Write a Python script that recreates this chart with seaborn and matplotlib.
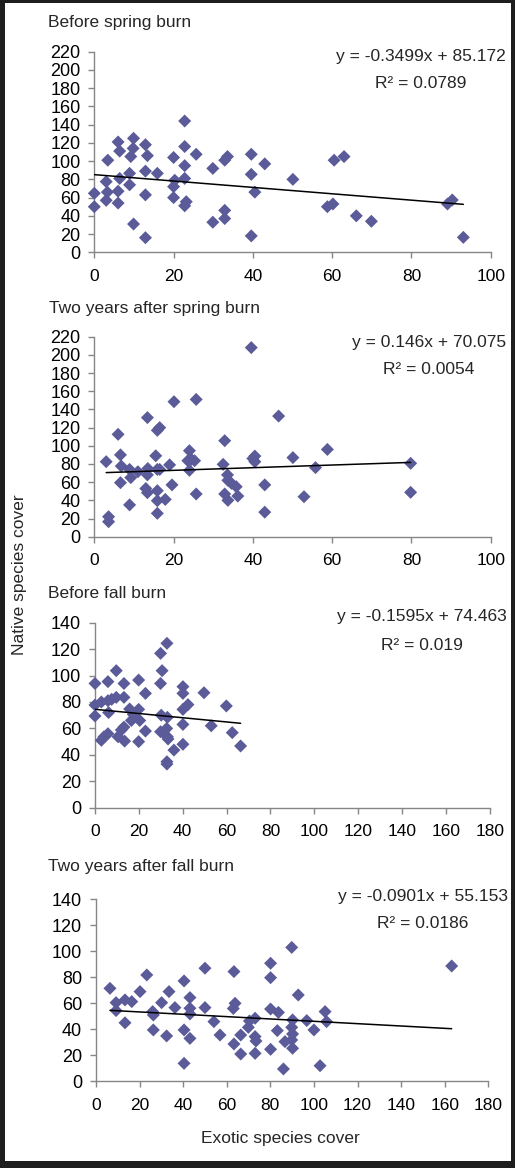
import numpy as np
import pandas as pd
import matplotlib
matplotlib.use("Agg")
import matplotlib.pyplot as plt
import seaborn as sns
from matplotlib.patches import Rectangle

# ---------------- data ----------------
titles = ["Before spring burn", "Two years after spring burn",
          "Before fall burn", "Two years after fall burn"]

x1 = [0, 0, 3.4, 3, 3.3, 3, 6, 6.4, 6.4, 6, 6, 9.9, 9.8, 9.2, 8.9, 8.9, 9.9,
      12.9, 13.4, 12.9, 12.9, 12.9, 15.9, 20, 20.3, 20, 20, 22.8, 22.8, 22.8,
      22.8, 23.2, 22.8, 25.7, 29.9, 29.9, 32.9, 33.6, 32.9, 32.9, 39.6, 39.6,
      40.5, 39.6, 43, 50.1, 58.8, 60.2, 60.5, 63, 66.1, 69.9, 89.1, 90.3, 93.1]
y1 = [64.7, 50, 101, 77.5, 66, 57, 121, 111, 81, 67, 54, 125, 114, 105, 86.6,
      74, 31, 118, 106, 89, 63, 16, 86.6, 104, 79, 72, 60, 144, 116, 95, 81,
      55.5, 51, 107.5, 92, 33, 101, 105, 46, 37, 107.5, 85.5, 66, 18, 97, 80,
      50, 53, 101, 105, 40, 34, 53, 57.4, 16.4]

x2 = [3.0, 3.6, 3.6, 6.0, 6.6, 6.8, 6.6, 8.9, 9.2, 8.9, 11, 13.4, 13.5, 13.4,
      13, 13.4, 15.5, 15.9, 16.5, 15.9, 16.5, 15.9, 15.9, 15.9, 17.9, 19, 19.6,
      20.1, 25.7, 24, 23.6, 24.5, 25.3, 24, 25.7, 32.9, 32.5, 33.6, 33.7, 34.6,
      35.8, 32.9, 33.7, 36.2, 39.6, 40, 40.5, 40.5, 43, 43, 46.5, 50.1, 52.9,
      55.8, 58.8, 79.8, 79.8]
y2 = [82.5, 22, 16.5, 112.6, 90, 77.7, 59.4, 74, 65, 35, 71.5, 131, 75, 68,
      53, 48.4, 89, 74, 74, 117, 120, 50.6, 39.6, 25.7, 41, 79, 57, 148.5, 151,
      94.6, 83.6, 85, 83.6, 73, 47, 105.6, 79.6, 68, 62, 58.7, 55, 47, 40,
      44.7, 208, 86, 88.7, 82.5, 57, 27, 132.7, 87, 44, 76, 96, 80.7, 48.8]

x3 = [0, 0, 0, 2.9, 2.9, 4.1, 5.9, 5.9, 6.2, 5.9, 9.7, 9.7, 10.5, 12, 13.2,
      13.2, 13.2, 13.5, 15.8, 16.6, 19.9, 19.9, 20.4, 19.9, 23, 23, 29.9, 32.8,
      30.6, 29.9, 30.2, 33, 29.9, 32.7, 33, 33.3, 32.8, 32.8, 36, 40.1, 40.1,
      42.4, 40.1, 40.1, 40.1, 49.7, 53, 59.9, 62.6, 66.4, 7.6, 17.5]
y3 = [94, 77.7, 69.4, 80, 51, 53.7, 95.4, 81, 72, 56, 103.7, 83.5, 53.7, 58.8,
      94, 83.5, 61, 50.4, 74.7, 66, 96.6, 74.4, 66, 50, 86.5, 58, 116.8, 124.4,
      103.7, 94, 70, 68.4, 57.5, 60, 53.7, 52, 34.8, 33, 43.6, 91.6, 86.5, 78,
      74.4, 63, 48, 87, 62, 77, 56.8, 46.7, 82, 70.5]

x4 = [6.4, 9.2, 9.2, 13.3, 13.3, 16.4, 20.2, 23.3, 26, 26.3, 26.3, 30.1, 32.4,
      33.5, 36.2, 40.4, 40.4, 40.4, 43.1, 43.1, 43.1, 43.1, 50, 50, 54.1, 56.9,
      63.3, 63.8, 63, 63.3, 66.4, 66.4, 69.9, 70.4, 73, 73, 73.4, 73, 80.1,
      80.1, 80.1, 83.7, 80.1, 83.2, 86, 86.7, 89.8, 92.8, 90.2, 89.8, 90.2,
      89.8, 90.2, 96.7, 100, 102.8, 105.1, 105.8, 163.2]
y4 = [71.5, 60.5, 54.4, 45, 62.6, 61.3, 69, 81.8, 53.6, 51, 39.5, 60.5, 34.9,
      69, 56.7, 77.2, 39.5, 13.8, 64.4, 56.2, 51.8, 33, 87, 56.7, 45.9, 35.6,
      84.4, 60, 56, 28.7, 35.6, 21, 41.5, 46.4, 48.5, 34.4, 31, 21.5, 90.8,
      79.7, 55.6, 53, 24.6, 39, 9.5, 30.5, 103, 66.4, 47.2, 41.5, 36.4, 31.8,
      25.4, 46.7, 39.5, 12, 53.6, 45.9, 88.7]

slopes = [-0.3499, 0.146, -0.1595, -0.0901]
intercepts = [85.172, 70.075, 74.463, 55.153]
eq_labels = ["y = -0.3499x + 85.172", "y = 0.146x + 70.075",
             "y = -0.1595x + 74.463", "y = -0.0901x + 55.153"]
r2_labels = ["R\u00b2 = 0.0789", "R\u00b2 = 0.0054",
             "R\u00b2 = 0.019", "R\u00b2 = 0.0186"]
x_max = [100, 100, 180, 180]
y_max = [220, 220, 140, 140]

# ---------------- style ----------------
sns.set_style("ticks")
plt.rcParams["font.family"] = ["Liberation Sans", "DejaVu Sans"]

W, H = 515, 1168
FS = 12.5
MARKER = "#5b5b99"
SPINE = "#868686"

fig = plt.figure(figsize=(W / 100, H / 100), dpi=100)
fig.patch.set_facecolor("#1e1e1e")
fig.add_artist(Rectangle((5 / W, 7 / H), 506 / W, 1158 / H,
                         transform=fig.transFigure, facecolor="white",
                         edgecolor="none", zorder=-10))

# axes boxes in pixels: left, top, right, bottom
boxes = [(94.3, 51.7, 490.7, 252.3), (94.3, 336.7, 490.7, 536.7),
         (95, 622.7, 489.7, 807.7), (96, 899.3, 488.3, 1081.3)]
title_pos = [(48, 23), (49, 309), (48, 594), (48, 866)]
eq_pos = [(421, 57, 84), (429, 343, 370), (422, 617, 645), (423, 897, 924)]

xs_all = [x1, x2, x3, x4]
ys_all = [y1, y2, y3, y4]

for i in range(4):
    l, t, r, b = boxes[i]
    ax = fig.add_axes([l / W, 1 - b / H, (r - l) / W, (b - t) / H])
    ax.set_facecolor("none")
    df = pd.DataFrame({"x": xs_all[i], "y": ys_all[i]})
    sns.scatterplot(data=df, x="x", y="y", marker="D", s=44, color=MARKER,
                    edgecolor="none", linewidth=0, ax=ax, zorder=3,
                    clip_on=False)
    ends = [min(xs_all[i]), max(xs_all[i])]
    sns.lineplot(x=ends, y=[intercepts[i] + slopes[i] * v for v in ends],
                 color="black", linewidth=1.1, ax=ax, zorder=4)
    ax.set_xlim(0, x_max[i])
    ax.set_ylim(0, y_max[i])
    ax.set_xticks(np.arange(0, x_max[i] + 1, 20))
    ax.set_yticks(np.arange(0, y_max[i] + 1, 20))
    ax.set_xlabel("")
    ax.set_ylabel("")
    for s in ["top", "right"]:
        ax.spines[s].set_visible(False)
    for s in ["left", "bottom"]:
        ax.spines[s].set_color(SPINE)
        ax.spines[s].set_linewidth(1.0)
    ax.tick_params(direction="out", length=4, width=1, color=SPINE,
                   labelsize=FS, labelcolor="black", left=True, bottom=True)
    ax.tick_params(axis="x", pad=8)
    ax.tick_params(axis="y", pad=6, labelsize=13)

    tx, ty = title_pos[i]
    fig.text(tx / W, 1 - ty / H, titles[i], ha="left", va="center",
             fontsize=FS)
    ex, ey, ry = eq_pos[i]
    fig.text(ex / W, 1 - ey / H, eq_labels[i], ha="center", va="center",
             fontsize=FS)
    fig.text(ex / W, 1 - ry / H, r2_labels[i], ha="center", va="center",
             fontsize=FS)

fig.text(20 / W, 1 - 575 / H, "Native species cover", rotation=90,
         ha="center", va="center", fontsize=FS)
fig.text(280 / W, 1 - 1138 / H, "Exotic species cover", ha="center",
         va="center", fontsize=FS)

fig.savefig("out.png", dpi=100, facecolor=fig.get_facecolor())
